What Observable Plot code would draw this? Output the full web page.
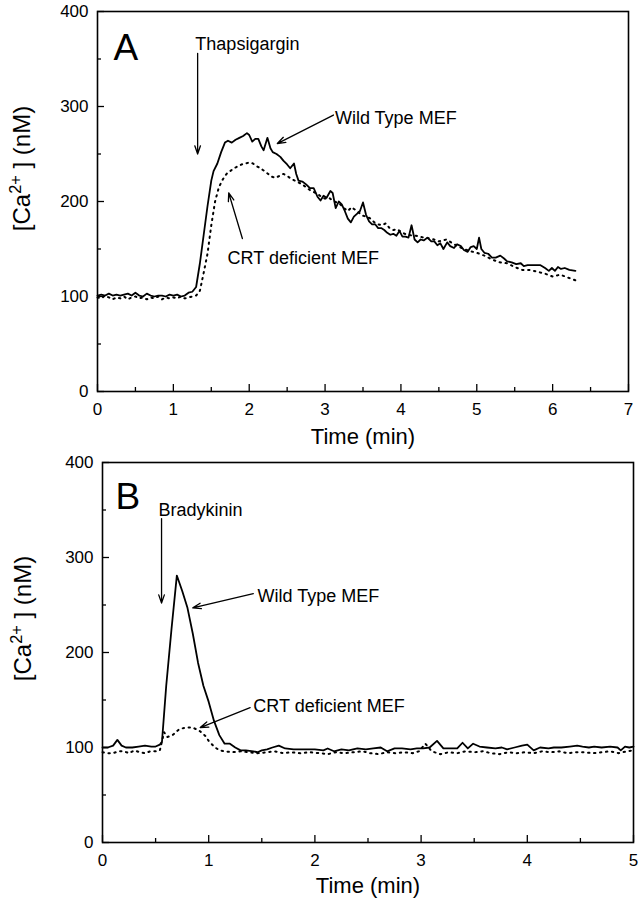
<!DOCTYPE html>
<html><head><meta charset="utf-8">
<script src="https://cdn.jsdelivr.net/npm/d3@7"></script>
<script src="https://cdn.jsdelivr.net/npm/@observablehq/plot@0.6"></script>
<style>
body{margin:0;background:#fff;}
#chart{width:641px;}
#chart svg{display:block;}
</style></head><body><div id="chart"></div>
<script>
// ---------- Panel A (Thapsigargin) ----------
const wtA_t = [0.00,0.05,0.10,0.15,0.20,0.25,0.30,0.35,0.40,0.45,0.50,0.55,0.60,0.65,0.70,0.75,0.80,0.85,0.90,0.95,1.00,1.05,1.10,1.15,1.20,1.25,1.30,1.35,1.40,1.45,1.50,1.53,1.58,1.63,1.68,1.72,1.77,1.82,1.87,1.92,1.97,2.00,2.04,2.08,2.12,2.16,2.19,2.24,2.28,2.31,2.36,2.41,2.45,2.50,2.54,2.59,2.62,2.65,2.70,2.75,2.80,2.85,2.90,2.94,2.98,3.02,3.07,3.10,3.14,3.18,3.22,3.26,3.30,3.34,3.38,3.42,3.46,3.50,3.54,3.58,3.62,3.66,3.70,3.74,3.78,3.82,3.86,3.90,3.94,3.98,4.02,4.06,4.10,4.14,4.18,4.22,4.26,4.30,4.35,4.40,4.44,4.48,4.52,4.56,4.61,4.65,4.70,4.74,4.79,4.83,4.88,4.92,4.96,5.00,5.03,5.06,5.10,5.15,5.20,5.25,5.31,5.36,5.40,5.46,5.52,5.58,5.62,5.67,5.72,5.78,5.84,5.90,5.95,5.99,6.03,6.07,6.11,6.16,6.22,6.30];
const wtA_c = [101,102,101,103,101,102,101,102,103,101,104,101,100,103,101,100,101,101,100,102,101,102,100,101,104,105,110,135,165,195,222,232,240,252,262,264,262,265,267,269,272,270,263,266,266,258,254,267,256,252,250,247,243,239,235,240,229,222,221,218,214,214,205,201,206,204,211,209,193,200,197,190,182,178,184,187,190,199,186,179,176,176,172,172,170,167,165,166,164,169,163,163,162,175,160,157,160,159,162,158,158,154,156,150,157,153,151,155,153,149,147,152,153,150,162,150,146,145,141,141,143,140,137,136,134,135,132,133,133,133,133,130,127,130,127,131,129,130,128,127];

const crtA_t = [0.00,0.05,0.10,0.15,0.20,0.25,0.30,0.35,0.40,0.45,0.50,0.55,0.60,0.65,0.70,0.75,0.80,0.85,0.90,0.95,1.00,1.05,1.10,1.15,1.20,1.25,1.30,1.35,1.40,1.45,1.50,1.55,1.60,1.65,1.70,1.75,1.80,1.85,1.90,1.95,2.00,2.05,2.10,2.15,2.20,2.25,2.30,2.35,2.40,2.45,2.50,2.55,2.60,2.65,2.70,2.75,2.80,2.85,2.90,2.95,3.00,3.05,3.10,3.15,3.20,3.25,3.30,3.35,3.40,3.45,3.50,3.55,3.60,3.65,3.70,3.75,3.80,3.85,3.90,3.95,4.00,4.05,4.10,4.15,4.20,4.30,4.40,4.50,4.60,4.70,4.80,4.90,5.00,5.10,5.20,5.30,5.40,5.50,5.60,5.70,5.80,5.90,6.00,6.10,6.20,6.30];
const crtA_c = [99,98,101,99,97,99,98,100,97,99,100,98,99,97,99,98,100,97,99,98,99,98,100,98,99,100,101,106,125,145,175,200,215,223,229,232,235,237,239,240,241,240,237,235,232,229,226,225,227,229,227,224,222,220,218,215,212,210,208,205,203,204,201,199,197,193,190,194,191,188,185,184,182,178,176,175,177,172,170,171,168,166,165,164,164,162,161,158,160,155,151,148,146,143,139,136,135,131,128,128,126,124,121,123,120,117];

const xTicksA = [0,1,2,3,4,5,6,7];
const xMinorA = [0.5,1.5,2.5,3.5,4.5,5.5,6.5];
const notesA_text = ["Thapsigargin","Wild Type MEF","CRT deficient MEF"];
const notesA_x = [1.29, 3.13, 1.715];
const notesA_y = [366, 288, 140];
const arrowsA_x1 = [1.32, 3.11, 1.91];
const arrowsA_y1 = [356, 291, 161];
const arrowsA_x2 = [1.32, 2.37, 1.73];
const arrowsA_y2 = [250, 261, 209];

// ---------- Panel B (Bradykinin) ----------
const wtB_t = [0.00,0.05,0.10,0.14,0.18,0.22,0.28,0.34,0.40,0.46,0.50,0.54,0.56,0.60,0.65,0.70,0.75,0.80,0.85,0.90,0.95,1.00,1.05,1.10,1.15,1.20,1.25,1.30,1.35,1.42,1.46,1.50,1.55,1.60,1.66,1.72,1.80,1.90,2.00,2.08,2.12,2.18,2.25,2.32,2.40,2.48,2.55,2.62,2.68,2.75,2.82,2.90,2.96,3.02,3.08,3.15,3.21,3.28,3.34,3.39,3.44,3.49,3.55,3.62,3.70,3.76,3.81,3.88,3.95,4.00,4.06,4.12,4.20,4.25,4.32,4.40,4.47,4.52,4.58,4.63,4.70,4.78,4.85,4.88,4.92,4.96,5.00];
const wtB_c = [100,100,102,108,102,100,100,101,102,101,101,103,106,165,225,281,265,247,220,189,165,148,128,113,104,104,100,97,97,96,95,97,98,100,102,99,98,98,98,97,99,96,98,97,99,98,99,100,96,99,99,98,99,99,100,107,99,99,99,105,99,104,101,100,99,100,98,100,102,103,97,100,99,100,100,101,102,101,100,101,100,101,100,97,101,100,101];

const crtB_t = [0.00,0.05,0.10,0.15,0.20,0.25,0.30,0.35,0.40,0.45,0.50,0.54,0.58,0.61,0.66,0.72,0.78,0.85,0.92,0.97,1.00,1.05,1.10,1.15,1.22,1.30,1.38,1.46,1.55,1.62,1.70,1.78,1.86,1.95,2.05,2.12,2.20,2.28,2.36,2.45,2.52,2.60,2.68,2.76,2.84,2.92,2.98,3.04,3.10,3.18,3.26,3.34,3.42,3.50,3.58,3.66,3.74,3.82,3.90,3.98,4.06,4.14,4.22,4.30,4.38,4.46,4.54,4.62,4.70,4.78,4.86,4.94,5.00];
const crtB_c = [95,94,94,96,96,94,97,95,94,96,96,97,116,111,113,119,121,121,117,112,107,101,97,96,95,96,95,94,95,96,94,95,94,95,94,93,95,94,95,96,94,93,95,94,95,94,96,104,96,93,95,94,96,95,96,94,93,95,94,95,94,96,95,96,94,95,95,94,95,96,94,96,97];

const xTicksB = [0,1,2,3,4,5];
const xMinorB = [0.5,1.5,2.5,3.5,4.5];
const notesB_text = ["Bradykinin","Wild Type MEF","CRT deficient MEF"];
const notesB_x = [0.527, 1.46, 1.42];
const notesB_y = [350, 259, 143];
const arrowsB_x1 = [0.556, 1.42, 1.39];
const arrowsB_y1 = [341, 262, 142];
const arrowsB_x2 = [0.556, 0.85, 0.92];
const arrowsB_y2 = [252, 247, 121];

// ---------- shared ----------
const yTicks = [0,100,200,300,400];
const yMinor = [50,150,250,350];
const xLabel = "Time (min)";
const yLabel = "[Ca2+] (nM)";
const FONT = "'Liberation Sans', Arial, Helvetica, sans-serif";

function panel(cfg) {
  const wt = cfg.wtT.map((t, i) => ({t, c: cfg.wtC[i]}));
  const crt = cfg.crtT.map((t, i) => ({t, c: cfg.crtC[i]}));
  const notes = cfg.noteText.map((s, i) => ({s, x: cfg.noteX[i], y: cfg.noteY[i]}));
  const arrows = cfg.arX1.map((x1, i) => ({x1, y1: cfg.arY1[i], x2: cfg.arX2[i], y2: cfg.arY2[i]}));
  return Plot.plot({
    width: 641,
    height: cfg.height,
    marginTop: cfg.mt, marginBottom: cfg.mb, marginLeft: cfg.ml, marginRight: cfg.mr,
    x: {domain: cfg.xDomain},
    y: {domain: [0, 400]},
    style: {fontFamily: FONT, fontSize: "17px", color: "#000", background: "#fff", overflow: "visible"},
    marks: [
      Plot.axisY(yMinor, {tickSize: -4, tickFormat: () => "", label: null, strokeWidth: 1.3}),
      Plot.axisY(yTicks, {tickSize: -7, tickPadding: 16, label: null, strokeWidth: 1.3, fontSize: 17}),
      Plot.axisX(cfg.xMinor, {tickSize: -4, tickFormat: () => "", label: null, strokeWidth: 1.3}),
      Plot.axisX(cfg.xTicks, {tickSize: -7, tickPadding: 18, label: null, strokeWidth: 1.3, fontSize: 17}),
      Plot.frame({stroke: "#000", strokeWidth: 1.6}),
      Plot.line(crt, {x: "t", y: "c", stroke: "#000", strokeWidth: 2, strokeDasharray: "1.4,4.6"}),
      Plot.line(wt, {x: "t", y: "c", stroke: "#000", strokeWidth: 1.8}),
      Plot.arrow(arrows, {x1: "x1", y1: "y1", x2: "x2", y2: "y2", stroke: "#000", strokeWidth: 1.3, headLength: 10, headAngle: 38}),
      Plot.text(notes, {x: "x", y: "y", text: "s", textAnchor: "start", lineAnchor: "middle", fontSize: 18, fill: "#000"}),
      Plot.text([cfg.letter], {frameAnchor: "top-left", dx: cfg.letterDx, dy: cfg.letterDy, lineAnchor: "top", textAnchor: "start", fontSize: 37, fill: "#000"}),
      Plot.text([xLabel], {frameAnchor: "bottom", dy: cfg.xLabelDy, lineAnchor: "bottom", textAnchor: "middle", fontSize: 22, fill: "#000"}),
      Plot.text([yLabel], {frameAnchor: "left", dx: cfg.yLabelDx, dy: cfg.yLabelDy, rotate: -90, textAnchor: "middle", lineAnchor: "middle", fontSize: 24, fill: "#000"})
    ]
  });
}

const plotA = panel({
  height: 450, mt: 11, mb: 59, ml: 97, mr: 13, xDomain: [0, 7],
  wtT: wtA_t, wtC: wtA_c, crtT: crtA_t, crtC: crtA_c,
  xTicks: xTicksA, xMinor: xMinorA,
  noteText: notesA_text, noteX: notesA_x, noteY: notesA_y,
  arX1: arrowsA_x1, arY1: arrowsA_y1, arX2: arrowsA_x2, arY2: arrowsA_y2,
  letter: "A", letterDx: 16, letterDy: 22, xLabelDy: 52, yLabelDx: -75, yLabelDy: -33
});
const plotB = panel({
  height: 449, mt: 12, mb: 57, ml: 102, mr: 8, xDomain: [0, 5],
  wtT: wtB_t, wtC: wtB_c, crtT: crtB_t, crtC: crtB_c,
  xTicks: xTicksB, xMinor: xMinorB,
  noteText: notesB_text, noteX: notesB_x, noteY: notesB_y,
  arX1: arrowsB_x1, arY1: arrowsB_y1, arX2: arrowsB_x2, arY2: arrowsB_y2,
  letter: "B", letterDx: 13, letterDy: 20, xLabelDy: 50, yLabelDx: -79, yLabelDy: -34
});

const chart = document.getElementById("chart");
chart.appendChild(plotA);
chart.appendChild(plotB);

// enforce tick label size on axis label groups
d3.selectAll('#chart g[aria-label="x-axis tick label"], #chart g[aria-label="y-axis tick label"]')
  .attr("font-size", 17).style("font-size", "17px");

// superscript "2+" in the y-axis label
d3.selectAll("#chart text").each(function () {
  if (this.textContent === yLabel) {
    const t = d3.select(this);
    t.text(null);
    t.append("tspan").text("[Ca");
    t.append("tspan").attr("baseline-shift", "super").attr("font-size", "0.68em").text("2+");
    t.append("tspan").text(" ] (nM)");
  }
});
</script>
</body></html>
